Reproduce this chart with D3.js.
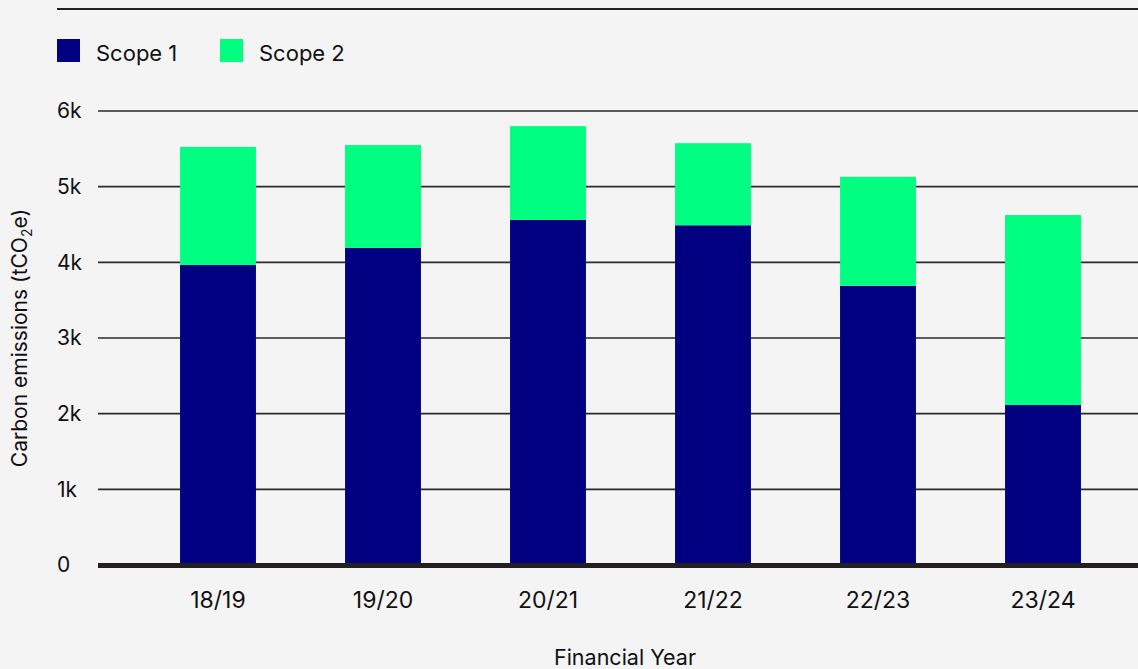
<!DOCTYPE html>
<html>
<head>
<meta charset="utf-8">
<script src="https://cdn.jsdelivr.net/npm/d3@7"></script>
<style>
  html, body { margin: 0; padding: 0; background: #f4f4f4; }
  svg { display: block; font-family: Inter, "Noto Sans", sans-serif; }
</style>
</head>
<body>
<div id="chart"></div>
<script>
// data
const years = ["18/19", "19/20", "20/21", "21/22", "22/23", "23/24"];
const scope1 = [3965, 4190, 4560, 4490, 3690, 2115];
const scope2 = [1560, 1360, 1240, 1085, 1440, 2510];
const yTicks = [0, 1000, 2000, 3000, 4000, 5000, 6000];
const seriesNames = ["Scope 1", "Scope 2"];
const colors = ["#000080", "#00ff80"];

const width = 1138, height = 669;

let svg = d3.select("#chart")
            .append("svg")
            .attr("width", width)
            .attr("height", height);

svg.append("rect")
   .attr("width", width).attr("height", height)
   .attr("fill", "#f4f4f4");

// top rule
svg.append("line")
   .attr("x1", 57).attr("x2", width)
   .attr("y1", 9).attr("y2", 9)
   .attr("stroke", "#222").attr("stroke-width", 2);

// legend
let legend = svg.selectAll(".legend")
                .data(seriesNames)
                .enter()
                .append("g")
                .attr("class", "legend")
                .attr("transform", (d, i) => `translate(${57 + i * 163},39)`);
legend.append("rect")
      .attr("width", 23).attr("height", 23)
      .attr("fill", (d, i) => colors[i]);
legend.append("text")
      .attr("x", 39).attr("y", 22)
      .attr("font-size", 22)
      .attr("fill", "#111")
      .text(d => d);

// scales
let x = d3.scaleBand()
          .domain(years)
          .range([135.5, 1125.5])
          .paddingInner(0.54)
          .paddingOuter(0.27);

let y = d3.scaleLinear()
          .domain([0, 6000])
          .range([565, 111]);

// gridlines
svg.append("g")
   .selectAll("line")
   .data(yTicks.filter(d => d > 0))
   .enter()
   .append("line")
   .attr("x1", 98).attr("x2", width)
   .attr("y1", d => y(d)).attr("y2", d => y(d))
   .attr("stroke", "#2a2a2a")
   .attr("stroke-width", 1.6);

// y axis labels
let yAxis = svg.append("g")
   .attr("transform", "translate(98,0)")
   .call(d3.axisLeft(y)
           .tickValues(yTicks)
           .tickSize(0)
           .tickPadding(16)
           .tickFormat(d => d === 0 ? "0" : (d / 1000) + "k"));
yAxis.select(".domain").remove();
yAxis.selectAll("text")
     .attr("font-size", 21)
     .attr("font-family", "Inter, 'Noto Sans', sans-serif")
     .attr("fill", "#111")
     .attr("text-anchor", "start")
     .attr("x", -41);

// stacked bars
let stacked = d3.stack().keys([0, 1])(years.map((yr, i) => [scope1[i], scope2[i]]));

svg.append("g")
   .selectAll("g")
   .data(stacked)
   .enter()
   .append("g")
   .attr("fill", (d, i) => colors[i])
   .selectAll("rect")
   .data(d => d)
   .enter()
   .append("rect")
   .attr("x", (d, i) => x(years[i]))
   .attr("y", d => y(d[1]))
   .attr("width", x.bandwidth())
   .attr("height", d => y(d[0]) - y(d[1]));

// baseline
svg.append("line")
   .attr("x1", 98).attr("x2", width)
   .attr("y1", y(0) + 0.5).attr("y2", y(0) + 0.5)
   .attr("stroke", "#231f20")
   .attr("stroke-width", 5);

// x axis labels
let xAxis = svg.append("g")
   .attr("transform", `translate(0,${y(0)})`)
   .call(d3.axisBottom(x).tickSize(0).tickPadding(27));
xAxis.select(".domain").remove();
xAxis.selectAll("text")
     .attr("font-size", 23)
     .attr("font-family", "Inter, 'Noto Sans', sans-serif")
     .attr("fill", "#111");

// axis titles
svg.append("text")
   .attr("x", 625).attr("y", 665)
   .attr("text-anchor", "middle")
   .attr("font-size", 21.5)
   .attr("fill", "#111")
   .text("Financial Year");

let yTitle = svg.append("text")
   .attr("transform", "translate(27,338) rotate(-90)")
   .attr("text-anchor", "middle")
   .attr("font-size", 21)
   .attr("fill", "#111");
yTitle.append("tspan").text("Carbon emissions (tCO");
yTitle.append("tspan").attr("font-size", 14).attr("dy", 5).text("2");
yTitle.append("tspan").attr("dy", -5).text("e)");
</script>
</body>
</html>
